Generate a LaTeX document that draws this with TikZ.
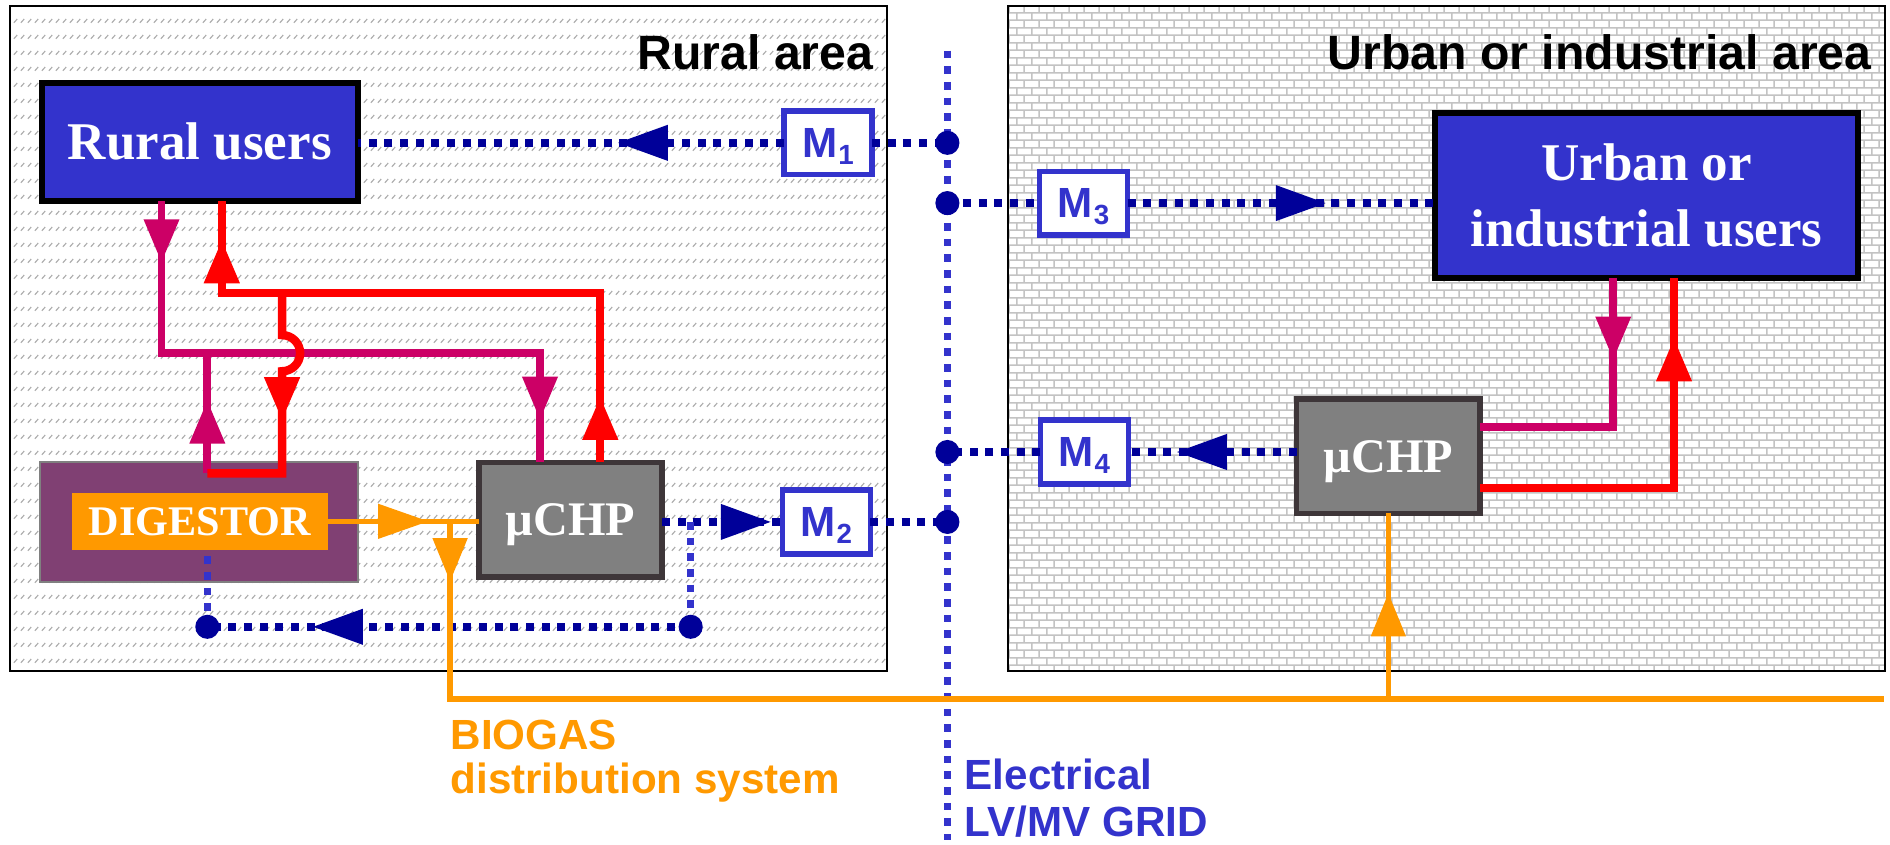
\documentclass[tikz,border=0pt]{standalone}
\usepackage{fontspec}
\newfontfamily\sansfam{Liberation Sans}
\newfontfamily\seriffam{Liberation Serif}
\usetikzlibrary{arrows.meta,decorations.markings,patterns.meta,calc}

\definecolor{boxblue}{RGB}{51,51,204}
\definecolor{navy}{RGB}{0,0,153}
\definecolor{mag}{RGB}{204,0,102}
\definecolor{orng}{RGB}{255,153,0}
\definecolor{digpurple}{RGB}{128,64,115}
\definecolor{digedge}{RGB}{128,128,128}
\definecolor{chpgray}{RGB}{128,128,128}
\definecolor{chpedge}{RGB}{62,54,57}
\definecolor{hatchgray}{RGB}{175,175,175}
\definecolor{mortar}{RGB}{195,195,195}

% rows of short slashes for the rural background
\tikzdeclarepattern{
  name=slashrows,
  type=uncolored,
  bottom left={(0pt,0pt)},
  top right={(2.8pt,6.7pt)},
  tile size={(2.8pt,6.7pt)},
  code={\draw[line width=0.5pt] (0.4pt,2.3pt) -- (1.8pt,3.9pt);}
}
% brick wall for the urban background
\tikzdeclarepattern{
  name=brickwall,
  type=colored,
  bottom left={(0pt,0pt)},
  top right={(6.2pt,6.2pt)},
  tile size={(6.2pt,6.2pt)},
  code={\draw[line width=0.65pt, draw=mortar]
    (0pt,0.3pt) -- (6.2pt,0.3pt) (0pt,3.4pt) -- (6.2pt,3.4pt)
    (0.3pt,0.3pt) -- (0.3pt,3.4pt) (3.4pt,3.4pt) -- (3.4pt,6.5pt);}
}

\newcommand{\mlab}[1]{M\kern0.4pt\raisebox{-2.8pt}{\fontsize{11.5pt}{12pt}\selectfont #1}}

\begin{document}
\begin{tikzpicture}[x=0.5pt, y=-0.5pt,
  areabox/.style={draw=black, line width=0.8pt, inner sep=0pt, outer sep=0pt,
    anchor=north west, minimum height=276pt},
  areatitle/.style={font=\sansfam\bfseries\fontsize{20pt}{24pt}\selectfont,
    inner sep=0pt, anchor=base east},
  userbox/.style={draw=black, line width=2.5pt, fill=boxblue, text=white,
    font=\seriffam\bfseries\fontsize{22pt}{27pt}\selectfont, align=center,
    inner sep=0pt, outer sep=0pt},
  chpbox/.style={draw=chpedge, line width=2.2pt, fill=chpgray, text=white,
    font=\seriffam\bfseries\fontsize{20pt}{24pt}\selectfont,
    minimum width=76pt, minimum height=47.5pt, inner sep=0pt, outer sep=0pt,
    text depth=0pt},
  meterbox/.style={draw=boxblue, line width=2.2pt, fill=white, text=boxblue,
    font=\sansfam\bfseries\fontsize{17.5pt}{20pt}\selectfont,
    minimum width=36.5pt, minimum height=26.5pt, inner sep=0pt, outer sep=0pt,
    text depth=0pt},
  dotnode/.style={circle, fill=navy, minimum size=10pt, inner sep=0pt, outer sep=0pt},
  caption/.style={font=\sansfam\bfseries\fontsize{17.5pt}{20pt}\selectfont,
    inner sep=0pt, anchor=base west},
  navydot/.style={draw=navy, line width=3.2pt, dash pattern=on 3.3pt off 3.2pt},
  griddash/.style={draw=boxblue, line width=2.8pt, dash pattern=on 3.2pt off 3.3pt},
  magline/.style={draw=mag, line width=3.2pt},
  redline/.style={draw=red, line width=3.5pt},
  orline/.style={draw=orng, line width=2.3pt},
  tipat/.style={postaction={decorate, decoration={markings,
    mark=at position #1 with {\arrow{Triangle[length=18pt,width=14pt]}}}}},
  dtipat/.style={postaction={decorate, decoration={markings,
    mark=at position #1 with {\arrow{Triangle[length=21pt,width=14pt]}}}}},
]
\useasboundingbox (0,0) rectangle (1568,701);
\fill[white] (0,0) rectangle (1568,701);

% the two areas
\node[areabox, minimum width=363.5pt, pattern=slashrows, pattern color=hatchgray]
  (ruralarea) at (8.6,5) {};
\node[areabox, minimum width=363.8pt, pattern=brickwall]
  (urbanarea) at (836.4,5) {};
\node[areatitle] (ruraltitle) at (725,58) {Rural area};
\node[areatitle] (urbantitle) at (1553,58) {Urban or industrial area};

% junctions and grid points
\coordinate (gtop) at (786,42);
\coordinate (gbot) at (786,697);
\coordinate (g1) at (786,118.5);
\coordinate (g3) at (786,168.5);
\coordinate (g4) at (786,375);
\coordinate (g2) at (786,433);
\coordinate (j1) at (573,433);
\coordinate (d1) at (573,520);
\coordinate (d2) at (172,520);
\coordinate (mbus) at (172,293);
\coordinate (mdig) at (172,392.7);
\coordinate (rbus) at (234,243);
\coordinate (jo) at (373.4,432.5);
\coordinate (gasend) at (1563,580);
\coordinate (gastap) at (1151.8,580);

% electrical grid
\draw[griddash] (gtop) -- (gbot);

% boxes
\node[userbox, minimum width=131pt, minimum height=49pt] (ruralusers) at (165.75,117.7) {Rural users};
\node[userbox, minimum width=175.5pt, minimum height=68.5pt] (urbanusers) at (1366,162.1) {Urban or\\industrial users};
\node[draw=digedge, line width=0.8pt, fill=digpurple, minimum width=132pt,
  minimum height=49.8pt, inner sep=0pt, outer sep=0pt] (digestor) at (165,432.8) {};
\node[fill=orng, text=white, font=\seriffam\bfseries\fontsize{17.5pt}{20pt}\selectfont,
  minimum width=105.9pt, minimum height=23.8pt, inner sep=0pt, outer sep=0pt,
  text depth=0pt] (diginner) at (165.9,432.5) {DIGESTOR};
\node[chpbox] (chpL) at (473.3,431.1) {µCHP};
\node[chpbox] (chpR) at (1151.8,378.4) {µCHP};
\node[meterbox] (M1) at (687,118.5) {\mlab{1}};
\node[meterbox] (M2) at (685.5,433) {\mlab{2}};
\node[meterbox] (M3) at (899,168.5) {\mlab{3}};
\node[meterbox] (M4) at (899.5,375) {\mlab{4}};

% electricity metering lines
\draw[navydot, dtipat=69.25pt] (M1.west) -- (M1.west -| ruralusers.east);
\draw[navydot] (M1.east) -- (g1);
\draw[navydot] (g3) -- (M3.west);
\draw[navydot, dtipat=82.5pt] (M3.east) -- (M3.east -| urbanusers.west);
\draw[navydot, dtipat=50pt] (M4.east -| chpR.west) -- (M4.east);
\draw[navydot] (M4.west) -- (g4);
\draw[navydot, dtipat=45.35pt] (M2.west -| chpL.east) -- (M2.west);
\draw[navydot] (M2.east) -- (g2);
\draw[griddash] (j1) -- (d1);
\draw[navydot, dtipat=157pt] (d1) -- (d2);
\draw[griddash] (d2) -- (d2 |- diginner.south);

% heat lines, rural side
\draw[magline, tipat=25.6pt, tipat=247.9pt]
  (ruralusers.south -| 134,0) -- (134,293) -- (448,293) -- (chpL.north -| 448,0);
\draw[magline, tipat=30.35pt] (mdig) -- (mbus);
\draw[redline, tipat=27.3pt, tipat=249.3pt]
  (chpL.north -| 498,0) -- (498,243) -- (184,243) -- (ruralusers.south -| 184,0);
\draw[redline, tipat=61.5pt]
  (rbus) -- (234,278) arc[start angle=90, end angle=-90, radius=7.5pt]
  -- (234,392.7) -- (mdig);

% heat lines, urban side
\draw[magline, tipat=34pt]
  (urbanusers.south -| 1338.4,0) -- (1338.4,354) -- (chpR.east |- 0,354);
\draw[redline, tipat=142.75pt]
  (chpR.east |- 0,405) -- (1388.8,405) -- (urbanusers.south -| 1388.8,0);

% biogas lines
\draw[orline, dtipat=41.9pt] (diginner.east) -- (chpL.west |- diginner.east);
\draw[orline, tipat=25pt] (jo) -- (373.4,580) -- (gasend);
\draw[orline, tipat=44pt] (gastap) -- (chpR.south);

% connection dots
\foreach \p in {g1,g2,g3,g4,d1,d2}
  \node[dotnode] (dot-\p) at (\p) {};

% captions
\node[caption, text=orng] (biogas1) at (373.4,621.6) {BIOGAS};
\node[caption, text=orng] (biogas2) at (373.4,658) {distribution system};
\node[caption, text=boxblue] (grid1) at (800,655) {Electrical};
\node[caption, text=boxblue] (grid2) at (800,694) {LV/MV GRID};
\end{tikzpicture}
\end{document}
